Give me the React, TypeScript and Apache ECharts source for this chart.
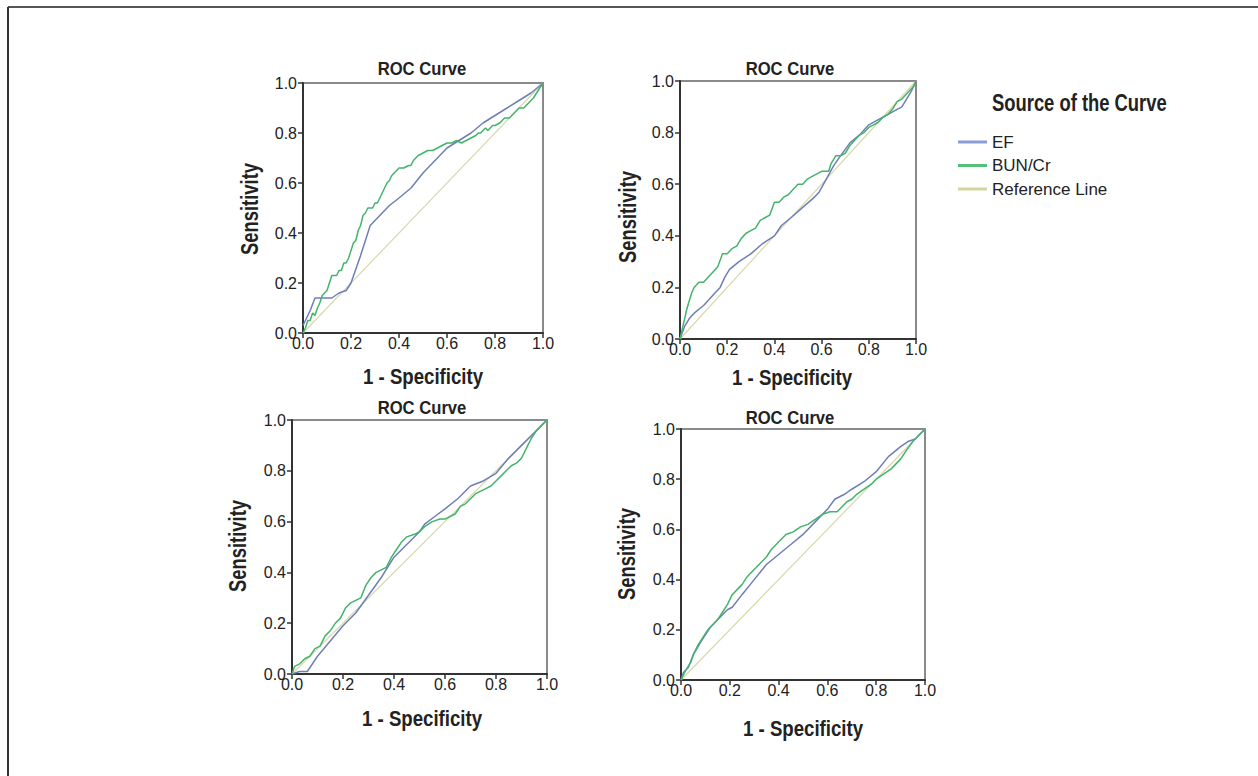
import React, { useEffect, useRef } from "react";
import * as echarts from "echarts";

const xTicks = [0, 0.2, 0.4, 0.6, 0.8, 1.0];
const titles = ["ROC Curve", "ROC Curve", "ROC Curve", "ROC Curve"];
const xNames = ["1 - Specificity", "1 - Specificity", "1 - Specificity", "1 - Specificity"];
const yNames = ["Sensitivity", "Sensitivity", "Sensitivity", "Sensitivity"];
const legendTitle = "Source of the Curve";
const legendNames = ["EF", "BUN/Cr", "Reference Line"];

const refLine = [[0, 0], [1, 1]];

const ef1 = [[0,0.03],[0.01,0.05],[0.03,0.09],[0.05,0.14],[0.08,0.14],[0.12,0.14],[0.15,0.16],[0.18,0.17],[0.2,0.2],[0.24,0.31],[0.28,0.43],[0.32,0.47],[0.36,0.51],[0.4,0.54],[0.45,0.58],[0.5,0.64],[0.55,0.69],[0.6,0.74],[0.65,0.77],[0.7,0.8],[0.75,0.84],[0.8,0.87],[0.85,0.9],[0.9,0.93],[0.95,0.96],[1,1]];
const bun1 = [[0,0],[0.01,0.02],[0.02,0.05],[0.03,0.05],[0.04,0.08],[0.05,0.07],[0.06,0.1],[0.07,0.12],[0.08,0.15],[0.1,0.17],[0.11,0.2],[0.12,0.23],[0.14,0.23],[0.15,0.25],[0.16,0.25],[0.17,0.28],[0.18,0.28],[0.19,0.3],[0.2,0.33],[0.21,0.36],[0.22,0.37],[0.23,0.41],[0.24,0.43],[0.25,0.47],[0.26,0.48],[0.27,0.5],[0.29,0.5],[0.3,0.52],[0.31,0.52],[0.32,0.54],[0.33,0.56],[0.34,0.58],[0.35,0.6],[0.36,0.61],[0.37,0.63],[0.38,0.64],[0.4,0.66],[0.42,0.66],[0.44,0.67],[0.45,0.67],[0.46,0.69],[0.48,0.71],[0.5,0.72],[0.52,0.73],[0.54,0.73],[0.56,0.74],[0.58,0.75],[0.6,0.76],[0.62,0.76],[0.64,0.77],[0.66,0.76],[0.68,0.77],[0.7,0.78],[0.72,0.79],[0.73,0.8],[0.74,0.8],[0.76,0.82],[0.77,0.81],[0.79,0.83],[0.8,0.83],[0.82,0.84],[0.84,0.86],[0.86,0.86],[0.88,0.88],[0.9,0.9],[0.92,0.9],[0.94,0.92],[0.96,0.94],[0.98,0.97],[1,1]];

const ef2 = [[0,0],[0.02,0.05],[0.04,0.08],[0.06,0.1],[0.1,0.13],[0.15,0.18],[0.17,0.2],[0.19,0.24],[0.21,0.27],[0.25,0.3],[0.3,0.33],[0.35,0.37],[0.4,0.4],[0.43,0.44],[0.47,0.47],[0.52,0.51],[0.57,0.55],[0.59,0.57],[0.62,0.62],[0.65,0.67],[0.68,0.71],[0.72,0.76],[0.76,0.79],[0.8,0.83],[0.84,0.85],[0.88,0.87],[0.92,0.89],[0.94,0.9],[0.96,0.93],[0.98,0.96],[1,1]];
const bun2 = [[0,0],[0.01,0.04],[0.02,0.08],[0.03,0.12],[0.04,0.15],[0.05,0.18],[0.06,0.2],[0.08,0.22],[0.1,0.22],[0.12,0.24],[0.14,0.26],[0.16,0.28],[0.18,0.33],[0.2,0.33],[0.22,0.35],[0.24,0.36],[0.26,0.39],[0.28,0.41],[0.3,0.42],[0.32,0.43],[0.34,0.46],[0.36,0.47],[0.38,0.48],[0.4,0.53],[0.42,0.53],[0.44,0.55],[0.46,0.56],[0.48,0.58],[0.5,0.6],[0.52,0.6],[0.54,0.62],[0.56,0.63],[0.58,0.64],[0.6,0.65],[0.63,0.65],[0.64,0.68],[0.66,0.71],[0.68,0.71],[0.7,0.72],[0.72,0.75],[0.74,0.77],[0.76,0.79],[0.78,0.8],[0.8,0.82],[0.82,0.83],[0.84,0.84],[0.86,0.86],[0.88,0.87],[0.9,0.89],[0.92,0.92],[0.94,0.93],[0.96,0.95],[0.98,0.97],[1,0.99]];

const ef3 = [[0,0],[0.03,0.01],[0.06,0.01],[0.1,0.07],[0.15,0.13],[0.2,0.19],[0.25,0.24],[0.3,0.31],[0.35,0.38],[0.4,0.46],[0.45,0.51],[0.5,0.56],[0.52,0.59],[0.56,0.62],[0.6,0.65],[0.65,0.69],[0.7,0.74],[0.75,0.76],[0.8,0.79],[0.85,0.85],[0.9,0.9],[0.95,0.95],[1,1]];
const bun3 = [[0,0],[0.01,0.03],[0.03,0.04],[0.05,0.06],[0.07,0.07],[0.09,0.1],[0.11,0.11],[0.13,0.15],[0.15,0.17],[0.17,0.2],[0.19,0.22],[0.21,0.26],[0.23,0.28],[0.25,0.29],[0.27,0.3],[0.29,0.35],[0.31,0.38],[0.33,0.4],[0.35,0.41],[0.37,0.42],[0.39,0.46],[0.41,0.49],[0.43,0.52],[0.45,0.54],[0.48,0.55],[0.5,0.56],[0.52,0.58],[0.55,0.6],[0.58,0.61],[0.6,0.61],[0.62,0.62],[0.64,0.63],[0.66,0.66],[0.68,0.67],[0.7,0.69],[0.72,0.71],[0.74,0.72],[0.76,0.73],[0.78,0.74],[0.8,0.76],[0.82,0.78],[0.84,0.8],[0.86,0.82],[0.88,0.83],[0.9,0.85],[0.91,0.87],[0.92,0.89],[0.94,0.93],[0.96,0.96],[0.98,0.98],[1,1]];

const ef4 = [[0,0],[0.01,0.03],[0.03,0.05],[0.05,0.1],[0.08,0.15],[0.12,0.21],[0.16,0.25],[0.19,0.28],[0.21,0.29],[0.25,0.34],[0.3,0.4],[0.35,0.46],[0.4,0.5],[0.45,0.54],[0.5,0.58],[0.55,0.63],[0.6,0.68],[0.63,0.72],[0.67,0.74],[0.7,0.76],[0.75,0.79],[0.8,0.83],[0.85,0.89],[0.9,0.93],[0.93,0.95],[0.96,0.96],[1,1]];
const bun4 = [[0,0],[0.01,0.02],[0.02,0.04],[0.04,0.07],[0.05,0.1],[0.07,0.14],[0.09,0.17],[0.11,0.2],[0.13,0.22],[0.15,0.24],[0.17,0.27],[0.19,0.3],[0.21,0.34],[0.23,0.36],[0.25,0.38],[0.27,0.41],[0.29,0.43],[0.31,0.45],[0.33,0.47],[0.35,0.49],[0.37,0.52],[0.39,0.54],[0.41,0.56],[0.43,0.58],[0.46,0.59],[0.49,0.61],[0.52,0.62],[0.55,0.64],[0.58,0.66],[0.61,0.67],[0.64,0.67],[0.66,0.69],[0.68,0.71],[0.7,0.72],[0.72,0.74],[0.75,0.76],[0.78,0.78],[0.8,0.8],[0.83,0.82],[0.86,0.84],[0.88,0.86],[0.9,0.88],[0.92,0.91],[0.95,0.95],[0.98,0.98],[1,1]];

const efSets = [ef1, ef2, ef3, ef4];
const bunSets = [bun1, bun2, bun3, bun4];

const FONT = "'Liberation Sans', Arial, Helvetica, sans-serif";
const EF_COLOR = "#6f7fb6";
const BUN_COLOR = "#43b46a";
const REF_COLOR = "#d7d9ab";
const EF_LEG = "#8a9dd6";
const BUN_LEG = "#55c079";
const REF_LEG = "#d3d6a0";

const grids = [
  { left: 303, top: 83, width: 240, height: 250, tx: 422, ty: 69, nx: 423, ny: 376, sx: 250, sy: 209 },
  { left: 680, top: 81, width: 236, height: 258, tx: 790, ty: 69, nx: 792, ny: 377, sx: 628, sy: 217 },
  { left: 292, top: 420, width: 255, height: 254, tx: 422, ty: 408, nx: 422, ny: 718, sx: 238, sy: 546 },
  { left: 681, top: 429, width: 244, height: 251, tx: 790, ty: 418, nx: 803, ny: 728, sx: 627, sy: 554 },
];

export default function App() {
  const ref = useRef<HTMLDivElement>(null);
  useEffect(() => {
    if (!ref.current) return;
    const chart = echarts.init(ref.current, null, { renderer: "svg" });
    const fmt = (v: number) => v.toFixed(1);
    const xAxis: any[] = [];
    const yAxis: any[] = [];
    const series: any[] = [];
    const graphic: any[] = [];
    grids.forEach((g, i) => {
      const common = {
        gridIndex: i,
        type: "value",
        min: xTicks[0],
        max: xTicks[xTicks.length - 1],
        interval: 0.2,
        splitLine: { show: false },
        axisLine: { show: true, onZero: false, lineStyle: { color: "#333", width: 2 } },
        axisTick: { show: true, inside: false, length: 5, lineStyle: { color: "#333", width: 1.5 } },
      };
      xAxis.push({
        ...common,
        axisLabel: { formatter: fmt, fontFamily: FONT, fontSize: 16, lineHeight: 10, color: "#222", margin: 5 },
      });
      yAxis.push({
        ...common,
        axisLabel: { formatter: fmt, fontFamily: FONT, fontSize: 16, lineHeight: 10, color: "#222", margin: 6 },
      });
      series.push({
        name: legendNames[2], type: "line", xAxisIndex: i, yAxisIndex: i, data: refLine,
        showSymbol: false, symbol: "none", lineStyle: { color: REF_COLOR, width: 1.2 },
        itemStyle: { color: REF_LEG }, z: 2,
      });
      series.push({
        name: legendNames[0], type: "line", xAxisIndex: i, yAxisIndex: i, data: efSets[i],
        showSymbol: false, symbol: "none", lineStyle: { color: EF_COLOR, width: 1.5 },
        itemStyle: { color: EF_LEG }, z: 3,
      });
      series.push({
        name: legendNames[1], type: "line", xAxisIndex: i, yAxisIndex: i, data: bunSets[i],
        showSymbol: false, symbol: "none", lineStyle: { color: BUN_COLOR, width: 1.5 },
        itemStyle: { color: BUN_LEG }, z: 4,
      });
      graphic.push({
        type: "text", x: g.tx, y: g.ty, scaleX: 0.9,
        style: {
          text: titles[i], fontFamily: FONT, fontSize: 18.5, fontWeight: "bold",
          fill: "#222", align: "center", verticalAlign: "middle",
        },
      });
      graphic.push({
        type: "text", x: g.nx, y: g.ny, scaleX: 0.81,
        style: {
          text: xNames[i], fontFamily: FONT, fontSize: 23, fontWeight: "bold",
          fill: "#222", align: "center", verticalAlign: "middle",
        },
      });
      graphic.push({
        type: "text", x: g.sx, y: g.sy, rotation: Math.PI / 2, scaleX: 0.8,
        style: {
          text: yNames[i], fontFamily: FONT, fontSize: 23, fontWeight: "bold",
          fill: "#222", align: "center", verticalAlign: "middle",
        },
      });
    });
    graphic.push({
      type: "text", x: 992, y: 103, scaleX: 0.8,
      style: { text: legendTitle, fontFamily: FONT, fontSize: 23, fontWeight: "bold", fill: "#222", align: "left", verticalAlign: "middle" },
    });
    graphic.push({ type: "line", shape: { x1: 8, y1: 7, x2: 1258, y2: 7 }, style: { stroke: "#555", lineWidth: 2 } });
    graphic.push({ type: "line", shape: { x1: 8, y1: 7, x2: 8, y2: 776 }, style: { stroke: "#333", lineWidth: 2 } });

    chart.setOption({
      animation: false,
      backgroundColor: "#fff",
      grid: grids.map((g) => ({
        left: g.left, top: g.top, width: g.width, height: g.height,
        show: true, borderColor: "#8a8a8a", borderWidth: 2, backgroundColor: "transparent",
      })),
      xAxis,
      yAxis,
      series,
      legend: {
        data: legendNames,
        orient: "vertical",
        left: 953,
        top: 127,
        icon: "rect",
        itemWidth: 29,
        itemHeight: 3,
        itemGap: 3.5,
        textStyle: { fontFamily: FONT, fontSize: 17, color: "#222", lineHeight: 20 },
        selectedMode: false,
      },
      graphic,
    });
    return () => chart.dispose();
  }, []);
  return (
    <div
      ref={ref}
      style={{ position: "absolute", left: 0, top: 0, width: 1258, height: 776 }}
    />
  );
}
